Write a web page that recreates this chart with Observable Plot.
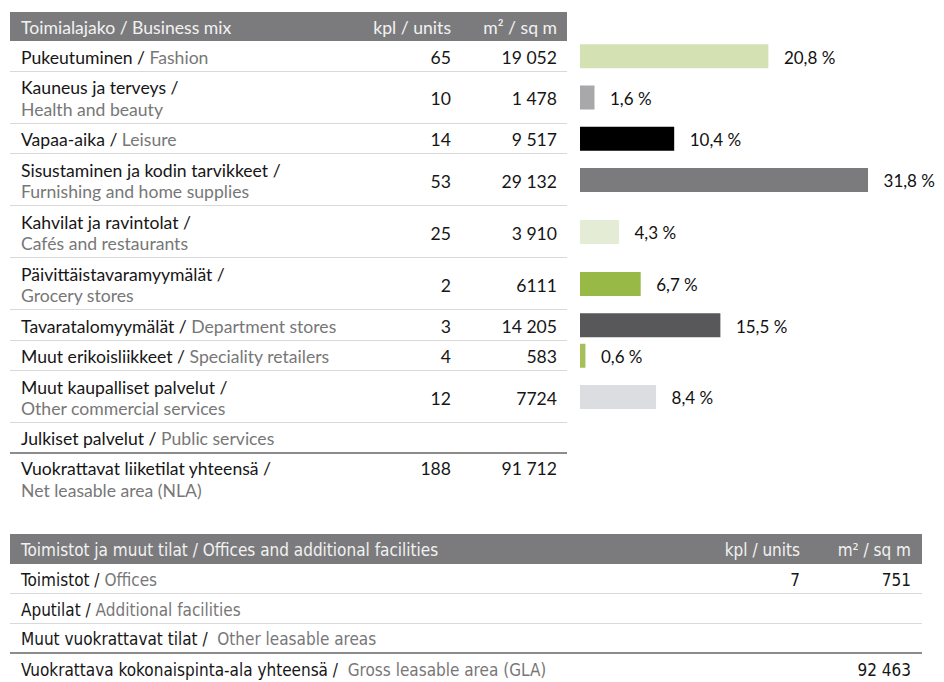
<!DOCTYPE html>
<html>
<head>
<meta charset="utf-8">
<script src="https://cdn.jsdelivr.net/npm/d3@7"></script>
<script src="https://cdn.jsdelivr.net/npm/@observablehq/plot@0.6"></script>
<style>
  html, body { margin: 0; padding: 0; background: #fff; }
  #page { position: relative; width: 944px; height: 682px; overflow: hidden; font-family: Lato, "Open Sans", sans-serif; color: #161616; }
  .tbl { position: absolute; }
  .hdr { display: flex; align-items: center; background: #7b7b7d; color: #f2f2f2; box-sizing: border-box; }
  .row { display: flex; align-items: center; box-sizing: border-box; border-bottom: 1px solid #d9d9d9; }
  .row.last { border-bottom: none; align-items: flex-start; }
  .row.thick { border-bottom: 2px solid #8c8c8c; }
  .name { flex: 1; padding-left: 11px; line-height: 21.5px; }
  .en { color: #777; }
  .num { text-align: right; }
  #topTable { left: 10px; top: 12px; width: 557px; font-size: 17.6px; }
  #topTable .hdr { height: 29px; }
  #topTable .hdr > div { position: relative; top: 1px; }
  #topTable .row > div { position: relative; top: 1.5px; }
  #topTable .c1 { width: 100px; padding-right: 1px; }
  #topTable .c2 { width: 115px; padding-right: 10px; box-sizing: border-box; }
  #topTable .row.last .num { padding-top: 3px; }
  #topTable .row.last .name { padding-top: 3px; }
  #bars { position: absolute; left: 570px; top: 41px; }
  #bottomTable { left: 10px; top: 534px; width: 912px; font-family: "Liberation Sans Narrow", "DejaVu Sans Condensed", Lato, sans-serif; font-stretch: condensed; font-size: 17px; }
  #bottomTable .hdr { height: 30px; }
  #bottomTable .row { height: 30px; }
  #bottomTable .hdr > div, #bottomTable .row > div { position: relative; top: 1px; }
  #bottomTable .c1 { width: 120px; padding-right: 3px; box-sizing: border-box; }
  #bottomTable .c2 { width: 119px; padding-right: 11px; box-sizing: border-box; }
  #bottomTable .name { line-height: 30px; }
</style>
</head>
<body>
<div id="page">
  <div id="topTable" class="tbl"></div>
  <div id="bars"></div>
  <div id="bottomTable" class="tbl"></div>
</div>
<script>
// ---------- data: business mix ----------
const headerTop = ["Toimialajako / Business mix", "kpl / units", "m² / sq m"];
const categoriesFi = [
  "Pukeutuminen", "Kauneus ja terveys", "Vapaa-aika", "Sisustaminen ja kodin tarvikkeet",
  "Kahvilat ja ravintolat", "Päivittäistavaramyymälät", "Tavaratalomyymälät",
  "Muut erikoisliikkeet", "Muut kaupalliset palvelut", "Julkiset palvelut"
];
const categoriesEn = [
  "Fashion", "Health and beauty", "Leisure", "Furnishing and home supplies",
  "Cafés and restaurants", "Grocery stores", "Department stores",
  "Speciality retailers", "Other commercial services", "Public services"
];
const units = [65, 10, 14, 53, 25, 2, 3, 4, 12, null];
const areaLabels = ["19 052", "1 478", "9 517", "29 132", "3 910", "6111", "14 205", "583", "7724", ""];
const shares = [20.8, 1.6, 10.4, 31.8, 4.3, 6.7, 15.5, 0.6, 8.4, null];
const totalTopFi = "Vuokrattavat liiketilat yhteensä";
const totalTopEn = "Net leasable area (NLA)";
const totalTopUnits = 188;
const totalTopArea = "91 712";

// ---------- data: offices ----------
const headerBottom = ["Toimistot ja muut tilat / Offices and additional facilities", "kpl / units", "m² / sq m"];
const officeFi = ["Toimistot", "Aputilat", "Muut vuokrattavat tilat"];
const officeEn = ["Offices", "Additional facilities", "Other leasable areas"];
const officeUnits = [7, null, null];
const officeAreaLabels = ["751", "", ""];
const totalBottomFi = "Vuokrattava kokonaispinta-ala yhteensä";
const totalBottomEn = "Gross leasable area (GLA)";
const totalBottomArea = "92 463";

// ---------- styles / layout ----------
const barColors = ["#d4e2b3", "#a8a8aa", "#000000", "#7b7b7d", "#e5ecd5", "#98b946", "#58585a", "#a5c05a", "#dcdde0", "#ffffff"];
const twoLine = [false, true, false, true, true, true, false, false, true, false];
const rowHeight = (lines) => 9 + 21.5 * lines;

function el(tag, cls, html) { const e = document.createElement(tag); if (cls) e.className = cls; if (html != null) e.innerHTML = html; return e; }

// ---------- top table ----------
const topTable = document.getElementById("topTable");
const hdr = el("div", "hdr");
hdr.append(el("div", "name", headerTop[0]), el("div", "num c1", headerTop[1]), el("div", "num c2", headerTop[2]));
topTable.append(hdr);
categoriesFi.forEach((fi, i) => {
  const r = el("div", "row" + (i === categoriesFi.length - 1 ? " thick" : ""));
  r.style.height = rowHeight(twoLine[i] ? 2 : 1) + "px";
  const sep = twoLine[i] ? " /<br>" : " / ";
  r.append(
    el("div", "name", `${fi}${sep}<span class="en">${categoriesEn[i]}</span>`),
    el("div", "num c1", units[i] == null ? "" : String(units[i])),
    el("div", "num c2", areaLabels[i])
  );
  topTable.append(r);
});
const tr = el("div", "row last");
tr.style.height = rowHeight(2) + "px";
tr.append(
  el("div", "name", `${totalTopFi} /<br><span class="en">${totalTopEn}</span>`),
  el("div", "num c1", String(totalTopUnits)),
  el("div", "num c2", totalTopArea)
);
topTable.append(tr);

// ---------- bars (Plot) ----------
let acc = 0;
const rows = categoriesFi.map((fi, i) => {
  const h = rowHeight(twoLine[i] ? 2 : 1);
  const r = { name: categoriesEn[i], share: shares[i], color: barColors[i], mid: acc + h / 2 };
  acc += h;
  return r;
});
const H = acc;
const barRows = rows.filter(d => d.share != null);
const fmt = d => d.toFixed(1).replace(".", ",") + " %";
const chart = Plot.plot({
  width: 374,
  height: H,
  marginLeft: 10,
  marginRight: 47,
  marginTop: 0,
  marginBottom: 0,
  style: { fontFamily: "Lato, 'Open Sans', sans-serif", fontSize: "17px", background: "transparent", overflow: "visible" },
  x: { domain: [0, 35], axis: null },
  y: { domain: [0, H], range: [0, H], axis: null },
  color: { type: "identity" },
  marks: [
    Plot.rect(barRows, { x1: 0, x2: "share", y1: d => d.mid - 12, y2: d => d.mid + 12, fill: "color" }),
    Plot.text(barRows, { x: "share", y: "mid", text: d => fmt(d.share), dx: 15, dy: 1.5, textAnchor: "start", fill: "#111", fontSize: 17 })
  ]
});
document.getElementById("bars").append(chart);

// ---------- bottom table ----------
const bottomTable = document.getElementById("bottomTable");
const hdr2 = el("div", "hdr");
hdr2.append(el("div", "name", headerBottom[0]), el("div", "num c1", headerBottom[1]), el("div", "num c2", headerBottom[2]));
bottomTable.append(hdr2);
officeFi.forEach((fi, i) => {
  const r = el("div", "row" + (i === officeFi.length - 1 ? " thick" : ""));
  r.append(
    el("div", "name", `${fi} / ${i === 2 ? "&nbsp;" : ""}<span class="en">${officeEn[i]}</span>`),
    el("div", "num c1", officeUnits[i] == null ? "" : String(officeUnits[i])),
    el("div", "num c2", officeAreaLabels[i])
  );
  bottomTable.append(r);
});
const br = el("div", "row");
br.style.borderBottom = "none";
br.append(
  el("div", "name", `${totalBottomFi} /&nbsp; <span class="en">${totalBottomEn}</span>`),
  el("div", "num c1", ""),
  el("div", "num c2", totalBottomArea)
);
bottomTable.append(br);
</script>
</body>
</html>
